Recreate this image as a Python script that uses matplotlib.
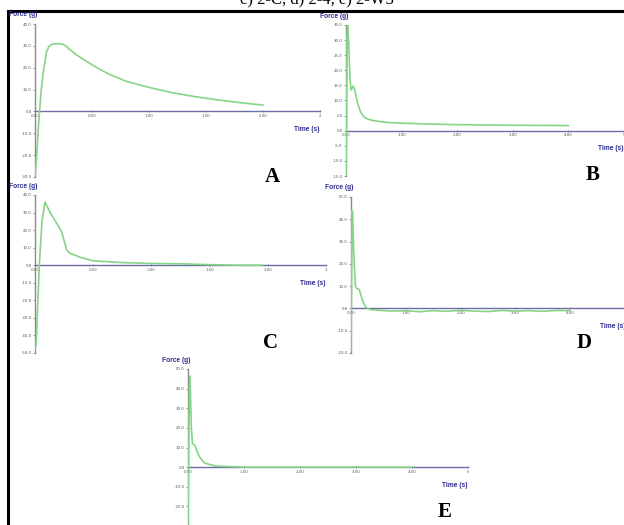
import matplotlib
matplotlib.use("Agg")
import matplotlib.pyplot as plt
from matplotlib.patches import Rectangle

# ---- data ----
# A
tA = [0.0, 0.005, 0.015, 0.03, 0.04, 0.055, 0.075, 0.10, 0.12, 0.14, 0.16, 0.20, 0.24, 0.27,
      0.30, 0.36, 0.45, 0.55, 0.65, 0.80, 1.00, 1.20, 1.40, 1.60, 1.80, 2.00]
fA = [-29.0, -27.0, -20.0, -7.0, 0.0, 10.0, 19.0, 27.0, 29.5, 30.5, 30.9, 31.0, 30.8, 30.0,
      28.5, 26.0, 23.0, 19.8, 17.0, 13.8, 11.0, 8.6, 6.8, 5.3, 4.0, 2.9]
# B
tB = [0.0, 0.01, 0.02, 0.03, 0.05, 0.07, 0.09, 0.11, 0.13, 0.15, 0.18, 0.21, 0.25, 0.30, 0.35,
      0.40, 0.50, 0.70, 1.00, 1.50, 2.00, 3.00, 4.00]
fB = [-15.0, 0.0, 30.0, 35.0, 29.0, 18.0, 13.5, 14.2, 14.8, 13.8, 11.5, 9.0, 6.8, 5.0, 4.2,
      3.8, 3.3, 2.8, 2.5, 2.2, 2.0, 1.8, 1.7]
# C
tC = [0.0, 0.01, 0.025, 0.037, 0.06, 0.086, 0.13, 0.20, 0.23, 0.25, 0.27, 0.30, 0.39, 0.50,
      0.75, 1.00, 1.25, 1.50, 1.75, 1.95]
fC = [-48.0, -45.0, -20.0, 0.0, 25.0, 36.0, 30.0, 22.4, 18.8, 14.0, 9.0, 6.8, 4.5, 2.5,
      1.5, 1.0, 0.8, 0.3, 0.0, 0.0]
# D
tD = [0.0, 0.01, 0.02, 0.03, 0.05, 0.08, 0.10, 0.15, 0.18, 0.22, 0.27, 0.35, 0.50, 0.75, 1.00,
      1.25, 1.50, 1.75, 2.00, 2.25, 2.50, 2.75, 3.00, 3.25, 3.50, 3.75, 4.00]
fD = [-19.0, 10.0, 44.0, 43.0, 25.0, 10.0, 9.0, 8.5, 6.0, 3.0, 0.5, -0.5, -0.8, -1.2, -1.0,
      -1.5, -1.0, -1.3, -0.8, -1.2, -1.4, -0.9, -1.2, -1.0, -1.3, -0.9, -1.0]
# E
tE = [0.0, 0.01, 0.025, 0.036, 0.06, 0.08, 0.125, 0.16, 0.21, 0.30, 0.50, 1.00, 2.00, 3.00, 4.00]
fE = [-30.0, 0.0, 40.0, 46.4, 20.0, 12.0, 11.0, 8.0, 5.0, 2.0, 0.5, 0.0, 0.0, 0.0, 0.0]

ticksA_x = [0.0, 0.5, 1.0, 1.5, 2.0, 2.5]
labsA_x = ["0.00", "0.50", "1.00", "1.50", "2.00", "2"]
ticks5_x = [0, 1, 2, 3, 4, 5]
labs5_x = ["0.00", "1.00", "2.00", "3.00", "4.00", "5"]

W, H = 624, 525
fig = plt.figure(figsize=(W / 100, H / 100), dpi=100)

GREEN = "#86d486"
AXBLUE = "#6d6da8"
LABBLUE = "#2c2c90"


def px(x, y):
    return x / W, 1 - y / H


def panel(left, top, right, bottom, t, f, xlim, ylim, yticks, xticks, xlabels, letter, lx, ly):
    ax = fig.add_axes([left / W, 1 - bottom / H, (right - left) / W, (bottom - top) / H])
    ax.patch.set_alpha(0)
    ax.plot(t, f, color=GREEN, lw=1.2, zorder=3)
    ax.set_xlim(*xlim)
    ax.set_ylim(*ylim)
    for s in ["top", "right"]:
        ax.spines[s].set_visible(False)
    ax.spines["bottom"].set_position(("data", 0))
    ax.spines["bottom"].set_color(AXBLUE)
    ax.spines["bottom"].set_linewidth(1.0)
    ax.spines["left"].set_color("#8a8a8a")
    ax.spines["left"].set_linewidth(1.0)
    ax.set_yticks(yticks)
    ax.set_yticklabels(["%.1f" % v for v in yticks])
    ax.set_xticks(xticks)
    ax.set_xticklabels(xlabels)
    ax.tick_params(axis="both", labelsize=2.8, labelcolor="#555555", length=1.5,
                   width=0.5, color="#777777", pad=1)
    ax.tick_params(axis="x", direction="inout")
    # axis titles
    fig.text(*px(left + 2, top - 9), "Force (g)", ha="right", va="center",
             fontsize=4.8, fontweight="bold", color=LABBLUE, family="Liberation Sans")
    zero_y = top + (bottom - top) * ylim[1] / (ylim[1] - ylim[0])
    fig.text(*px(right, zero_y + 18), "Time (s)", ha="right", va="center",
             fontsize=4.8, fontweight="bold", color=LABBLUE, family="Liberation Sans")
    fig.text(*px(lx, ly), letter, ha="center", va="center", fontsize=15,
             fontweight="bold", color="black", family="Liberation Serif")
    return ax


panel(35, 24, 320, 177, tA, fA, (0, 2.5), (-30, 40), list(range(40, -31, -10)),
      ticksA_x, labsA_x, "A", 272, 177)
panel(346, 25, 624, 176, tB, fB, (0, 5), (-15, 35), list(range(35, -16, -5)),
      ticks5_x, labs5_x, "B", 593, 175)
panel(35, 195, 326, 353, tC, fC, (0, 2.5), (-50, 40), list(range(40, -51, -10)),
      ticksA_x, labsA_x, "C", 270, 343)
panel(351, 197, 625, 353, tD, fD, (0, 5), (-20, 50), list(range(50, -21, -10)),
      ticks5_x, labs5_x, "D", 584, 343)
panel(188, 369, 468, 526, tE, fE, (0, 5), (-30, 50), list(range(50, -31, -10)),
      ticks5_x, labs5_x, "E", 445, 512)

# frame around the composite
fig.patches.append(Rectangle(px(8, 530), 630 / W, 519 / H, transform=fig.transFigure,
                             fill=False, edgecolor="black", lw=2.2))
# caption, cut off at the top edge as in the source
fig.text(*px(317, 3), "c) 2-C, d) 2-4, e) 2-W3", ha="center", va="baseline",
         fontsize=12, family="Liberation Serif", color="black")

fig.savefig("out.png", dpi=100)
